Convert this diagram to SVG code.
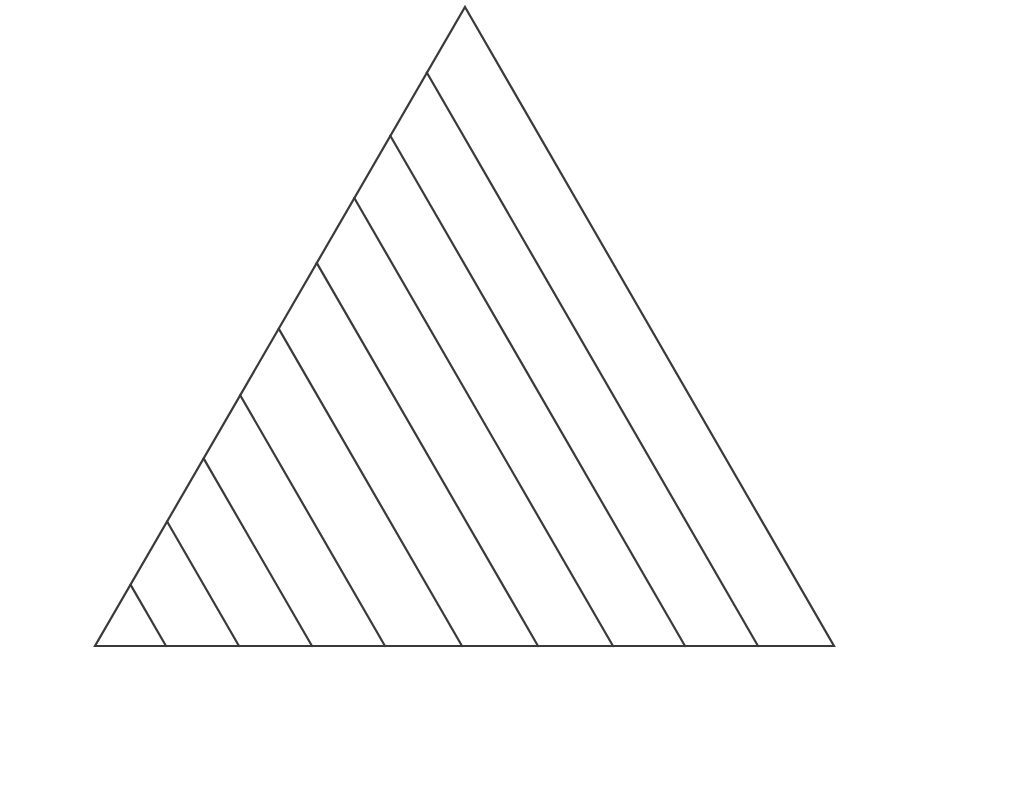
<svg xmlns="http://www.w3.org/2000/svg" width="1024" height="787" viewBox="0 0 1024 787">
<style>
.l{stroke:#3a3a3a;stroke-width:2.2;fill:none;stroke-linejoin:miter;stroke-linecap:round}
</style>
<rect width="1024" height="787" fill="#ffffff"/>
<g id="triangle">
<polygon class="l" points="465,7 834,646 95,646"/>
</g>
<g id="hatching" class="l">
<line x1="130.5" y1="584.6" x2="166" y2="646"/>
<line x1="167.1" y1="521.5" x2="239" y2="646"/>
<line x1="203.6" y1="458.4" x2="312" y2="646"/>
<line x1="240.2" y1="395.2" x2="385" y2="646"/>
<line x1="278.7" y1="328.6" x2="462" y2="646"/>
<line x1="316.7" y1="262.9" x2="538" y2="646"/>
<line x1="354.3" y1="198.0" x2="613" y2="646"/>
<line x1="390.3" y1="135.7" x2="685" y2="646"/>
<line x1="426.8" y1="72.5" x2="758" y2="646"/>
</g>
</svg>
